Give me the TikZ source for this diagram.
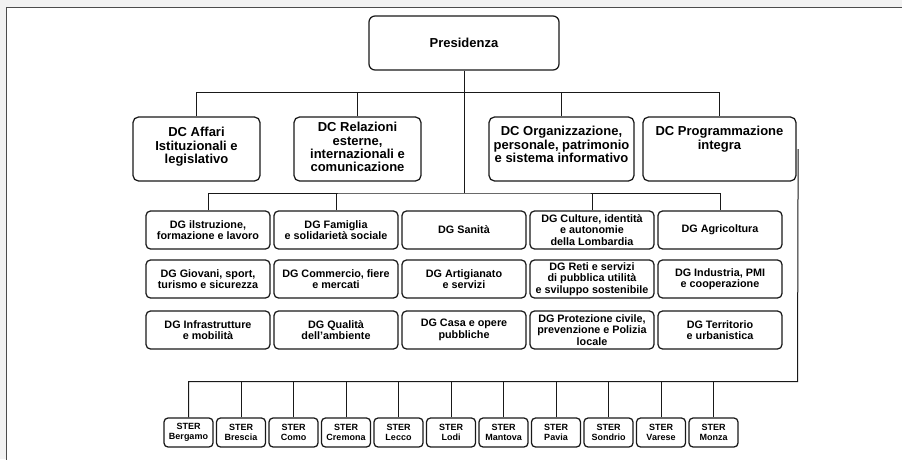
\documentclass[tikz,border=0pt]{standalone}
\usepackage{fontspec}
\setmainfont{Liberation Sans}
\begin{document}
\begin{tikzpicture}[x=1pt,y=-1pt,
  box/.style={draw=black!90, rounded corners=4.5pt, line width=1.25pt, inner sep=0pt, align=center},
  presbox/.style={box, rounded corners=6pt, minimum width=190pt, minimum height=54pt, font=\fontsize{13}{14}\selectfont\bfseries},
  dcbox/.style={box, rounded corners=5.5pt, minimum height=64pt},
  dctext/.style={inner sep=0pt, anchor=north, align=center, font=\fontsize{13}{13.4}\selectfont\bfseries},
  dgbox/.style={box, minimum width=124pt, minimum height=38pt, font=\fontsize{10.8}{11.4}\selectfont\bfseries},
  sterbox/.style={box, rounded corners=4pt, minimum width=49pt, minimum height=29pt, font=\fontsize{9}{9.6}\selectfont\bfseries},
  conn/.style={line width=1pt, draw=black!90}]
\useasboundingbox (0,0) rectangle (902,459);
\fill[black!5] (0,0) rectangle (902,459);
\draw[fill=white, draw=black!70, line width=1pt] (6,7) rectangle (930,490);

% Presidenza
\node[presbox] (pres) at (464,43) {Presidenza};

% DC boxes
\node[dcbox, minimum width=127pt] (dca) at (196.5,149) {};
\node[dcbox, minimum width=127pt] (dcr) at (357.5,149) {};
\node[dcbox, minimum width=145pt] (dco) at (561.5,149) {};
\node[dcbox, minimum width=153pt] (dcp) at (719.5,149) {};
\node[dctext] (dcat) at (196.5,127) {DC Affari\\Istituzionali e\\legislativo};
\node[dctext] (dcrt) at (357.5,122) {DC Relazioni\\esterne,\\internazionali e\\comunicazione};
\node[dctext] (dcot) at (561.5,126) {DC Organizzazione,\\personale, patrimonio\\e sistema informativo};
\node[dctext] (dcpt) at (719.5,126) {DC Programmazione\\integra};

% DG boxes
\node[dgbox] (g11) at (208,230) {DG ilstruzione,\\formazione e lavoro};
\node[dgbox] (g12) at (336,230) {DG Famiglia\\e solidarietà sociale};
\node[dgbox] (g13) at (464,230) {DG Sanità};
\node[dgbox] (g14) at (592,230) {DG Culture, identità\\e autonomie\\della Lombardia};
\node[dgbox] (g15) at (720,230) {DG Agricoltura};
\node[dgbox] (g21) at (208,279) {DG Giovani, sport,\\turismo e sicurezza};
\node[dgbox] (g22) at (336,279) {DG Commercio, fiere\\e mercati};
\node[dgbox] (g23) at (464,279) {DG Artigianato\\e servizi};
\node[dgbox] (g24) at (592,279) {DG Reti e servizi\\di pubblica utilità\\e sviluppo sostenibile};
\node[dgbox] (g25) at (720,279) {DG Industria, PMI\\e cooperazione};
\node[dgbox] (g31) at (208,330) {DG Infrastrutture\\e mobilità};
\node[dgbox] (g32) at (336,330) {DG Qualità\\dell’ambiente};
\node[dgbox] (g33) at (464,330) {DG Casa e opere\\pubbliche};
\node[dgbox] (g34) at (592,330) {DG Protezione civile,\\prevenzione e Polizia\\locale};
\node[dgbox] (g35) at (720,330) {DG Territorio\\e urbanistica};

% STER boxes
\foreach \name [count=\i from 0] in {Bergamo,Brescia,Como,Cremona,Lecco,Lodi,Mantova,Pavia,Sondrio,Varese,Monza}{
  \node[sterbox] (s\i) at (188.5+52.5*\i,432.5) {STER\\\name};
}

% buses
\coordinate (bus1) at (464,92.5);
\coordinate (bus2) at (464,193);
\coordinate (bus3) at (797.5,381.5);

\draw[conn] (dca.north) |- (bus1) -| (dcp.north);
\draw[conn] (dcr.north) -- (dcr.north |- bus1);
\draw[conn] (dco.north) -- (dco.north |- bus1);
\draw[conn] (pres.south) -- (bus2);

\draw[conn] (g11.north) |- (bus2) -| (g15.north);
\draw[conn] (g12.north) -- (g12.north |- bus2);
\draw[conn] (g14.north) -- (g14.north |- bus2);

\draw[conn] ([xshift=1.5pt]dcp.east) -- (bus3) -| (s0.north);
\foreach \i in {1,...,10}{
  \draw[conn] (s\i.north) -- (s\i.north |- bus3);
}
\end{tikzpicture}
\end{document}
